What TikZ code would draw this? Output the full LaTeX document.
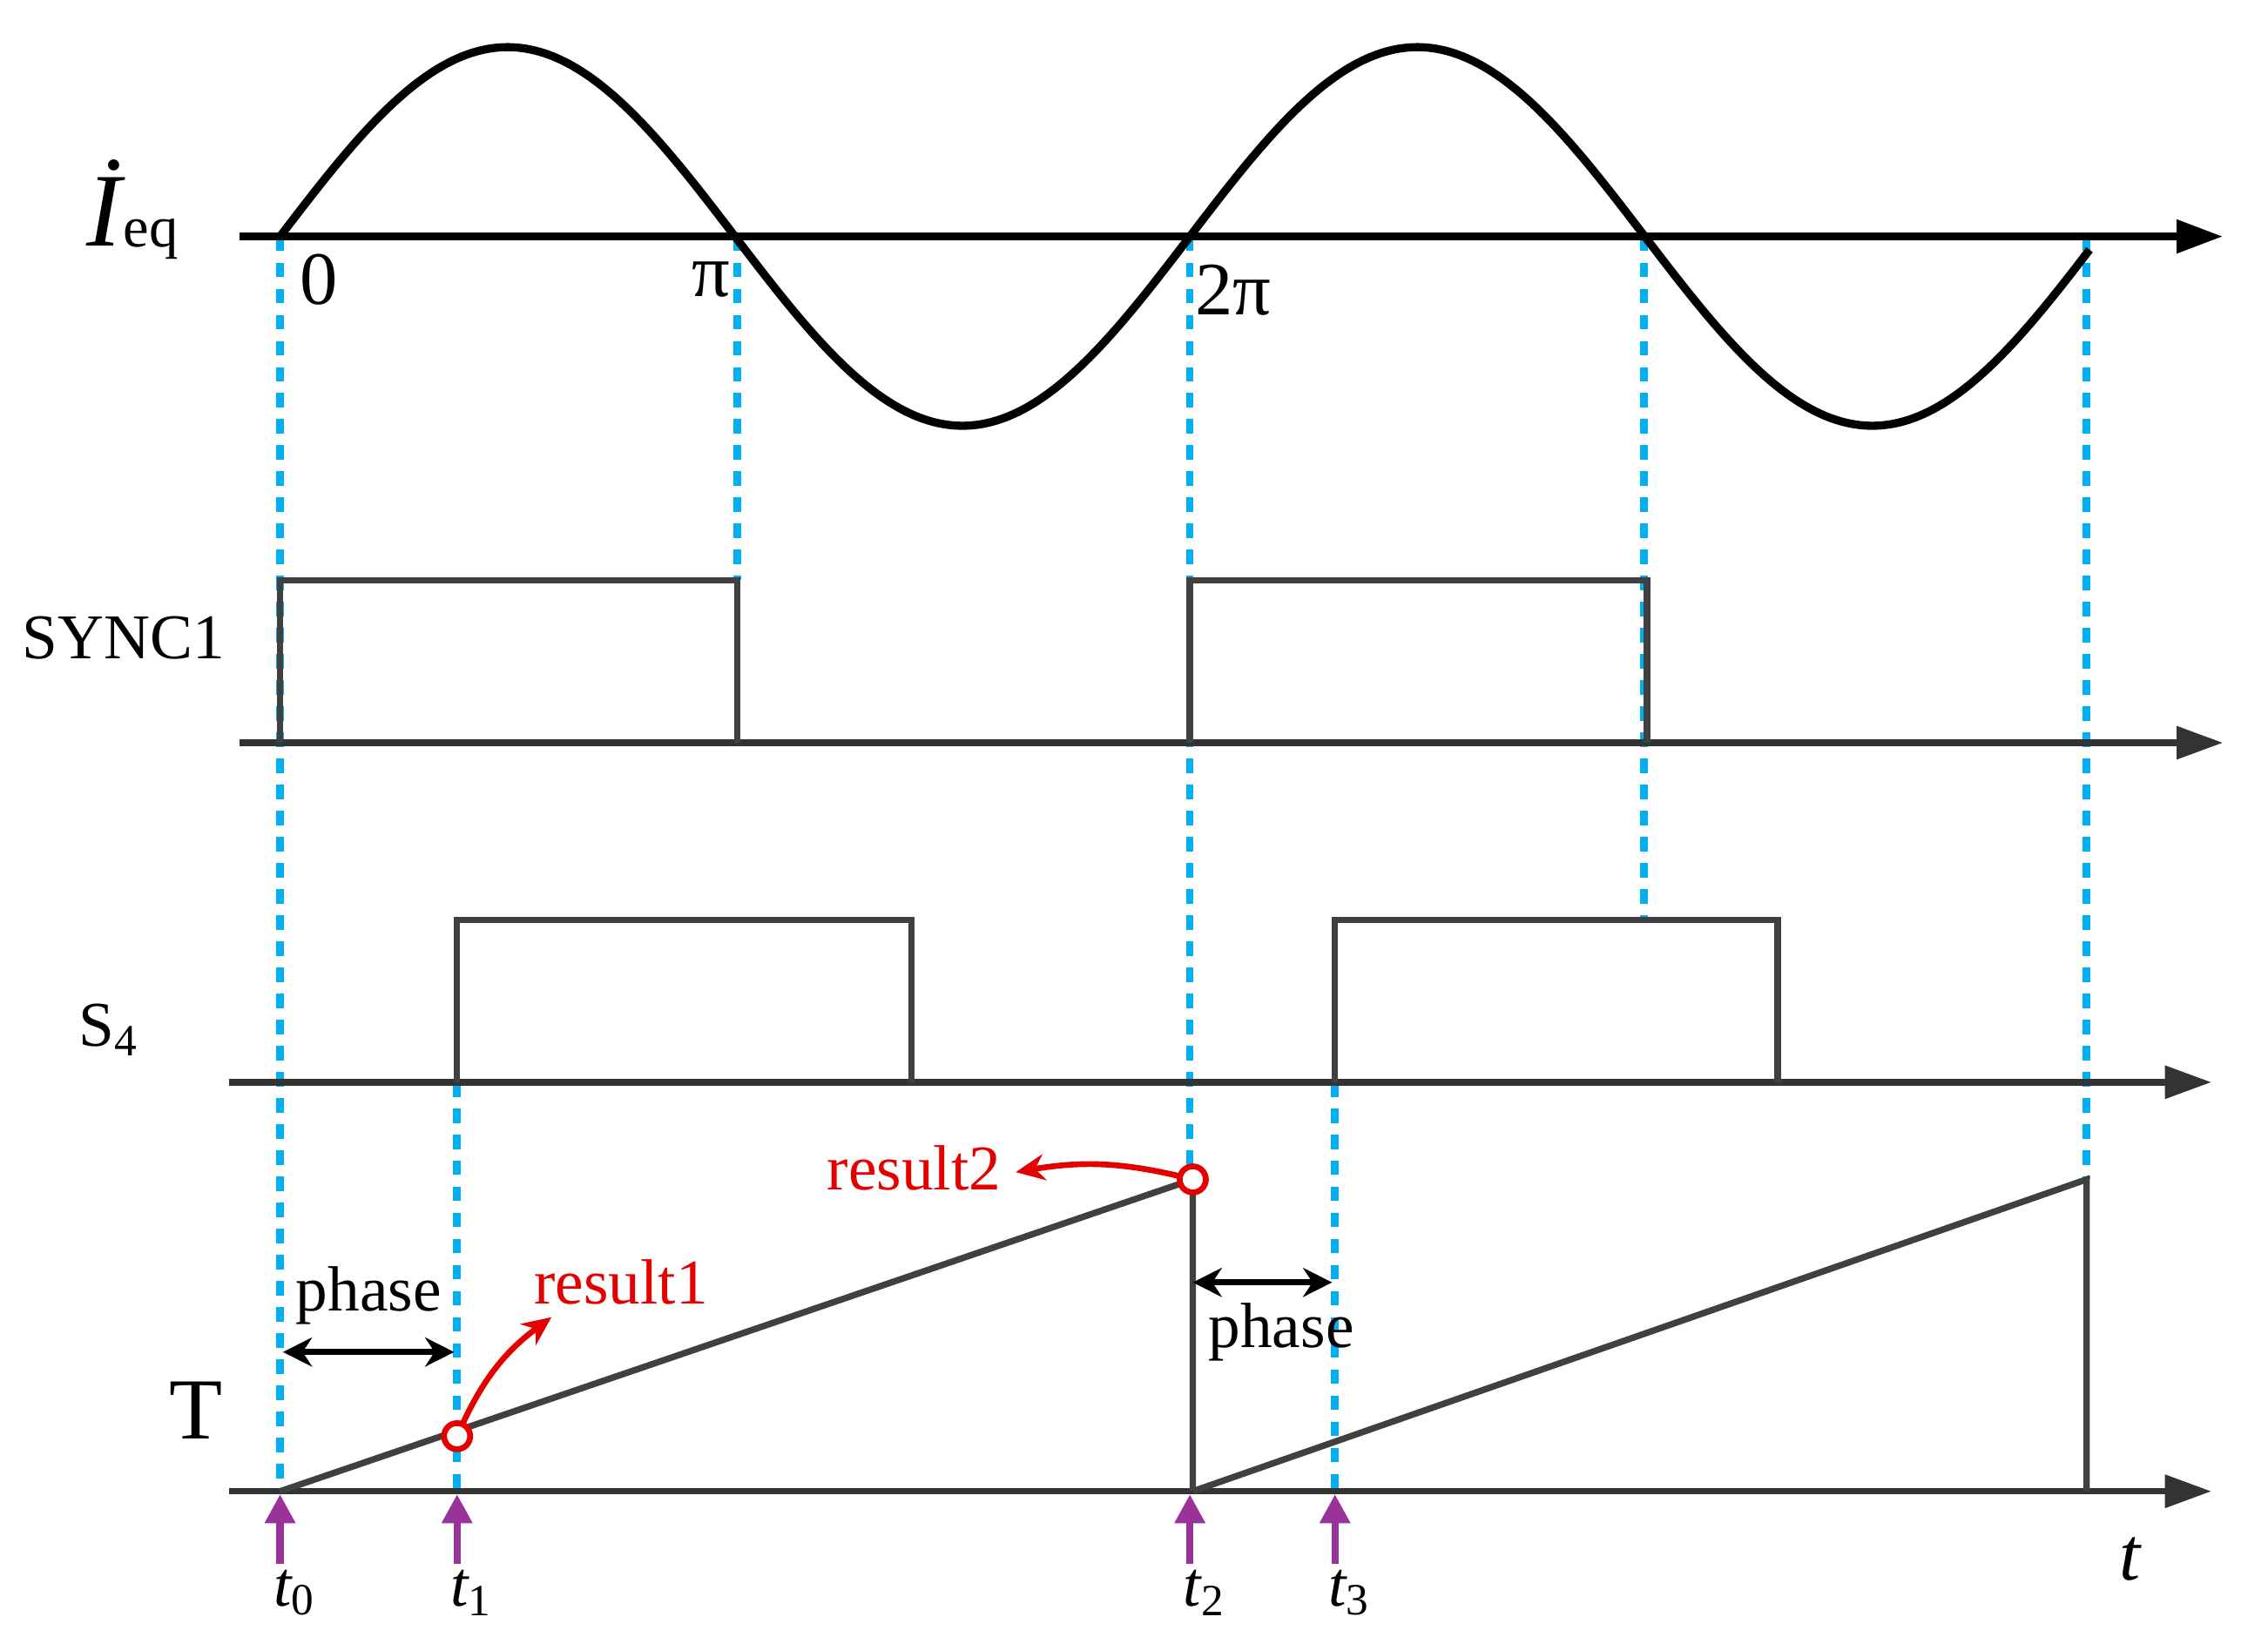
\documentclass[tikz,border=0pt]{standalone}
\usepackage{fontspec}
\setmainfont{Liberation Serif}
\usetikzlibrary{arrows.meta}
\definecolor{bluec}{RGB}{0,176,240}
\begin{document}
\begin{tikzpicture}[x=0.5pt,y=-0.5pt,
 ax/.style={line width=2.2pt,draw=black!80,-{Triangle[length=16pt,width=11pt]}},
 sig/.style={line width=2.2pt,draw=black!75},
 bl/.style={line width=2.6pt,draw=bluec,dash pattern=on 5pt off 4pt},
 pu/.style={line width=2.5pt,draw=violet!80,-{Triangle[length=10pt,width=10pt]}},
 rd/.style={line width=2pt,draw=red!90!black,-{Stealth[length=10pt,width=9pt]}},
 lab/.style={font=\fontsize{22}{24}\selectfont}]
\useasboundingbox (0,0) rectangle (1563,1128);
% blue dashed
\draw[bl] (193,163)--(193,1028);
\draw[bl] (508,163)--(508,400);
\draw[bl] (820,163)--(820,813);
\draw[bl] (1133,163)--(1133,634);
\draw[bl] (1438,163)--(1438,813);
\draw[bl] (315,746)--(315,1028);
\draw[bl] (920,746)--(920,1028);
% axes
\draw[ax,draw=black,line width=2.8pt] (165,163)--(1532,163);
\draw[ax] (165,512)--(1532,512);
\draw[ax] (158,746)--(1524,746);
\draw[ax] (158,1028)--(1524,1028);
% sine
\draw[line width=2.8pt,domain=193:1440,samples=200,smooth] plot (\x,{163-130.5*sin((\x-193)/627*360)});
% SYNC1
\draw[sig] (193,512)--(193,400)--(508,400)--(508,512);
\draw[sig] (820,512)--(820,400)--(1135,400)--(1135,512);
% S4
\draw[sig] (315,746)--(315,634)--(628,634)--(628,746);
\draw[sig] (920,746)--(920,634)--(1225,634)--(1225,746);
% T
\draw[sig] (193,1028)--(822,813)--(822,1028);
\draw[sig] (822,1028)--(1438,813)--(1438,1028);
% purple arrows
\foreach \x/\n in {193/0,315/1,820/2,920/3}{
 \draw[pu] (\x,1078)--(\x,1030);
 \node[lab,font=\fontsize{22}{24}\selectfont\itshape] at (\x+10,1098) {t\textsubscript{\upshape\n}};}
% phase
\draw[line width=2pt,{Stealth[length=10pt,width=10pt]}-{Stealth[length=10pt,width=10pt]}] (195,932)--(313,932);
\node[lab] at (254,893) {phase};
\draw[line width=2pt,{Stealth[length=10pt,width=10pt]}-{Stealth[length=10pt,width=10pt]}] (822,884)--(918,884);
\node[lab] at (883,918) {phase};
% red
\draw[rd] (315,990) to[bend left=15] (380,908);
\draw[rd] (822,813) to[bend right=12] (700,808);
\draw[line width=2pt,draw=red!90!black,fill=white] (315,990) circle (4.5pt);
\draw[line width=2pt,draw=red!90!black,fill=white] (822,813) circle (4.5pt);
\node[lab,text=red!90!black] at (428,884) {result1};
\node[lab,text=red!90!black] at (630,805) {result2};
% labels
\node[font=\fontsize{36}{38}\selectfont\itshape] at (72,140) {\.{I}};
\node[font=\fontsize{20}{22}\selectfont] at (104,165) {eq};
\node[font=\fontsize{26}{28}\selectfont] at (220,193) {0};
\node[font=\fontsize{26}{28}\selectfont] at (490,193) {π};
\node[font=\fontsize{26}{28}\selectfont] at (850,200) {2π};
\node[font=\fontsize{22}{24}\selectfont] at (85,440) {SYNC1};
\node[font=\fontsize{22}{24}\selectfont] at (75,710) {S\textsubscript{4}};
\node[font=\fontsize{30}{32}\selectfont] at (135,972) {T};
\node[font=\fontsize{26}{28}\selectfont\itshape] at (1468,1075) {t};
\end{tikzpicture}
\end{document}
